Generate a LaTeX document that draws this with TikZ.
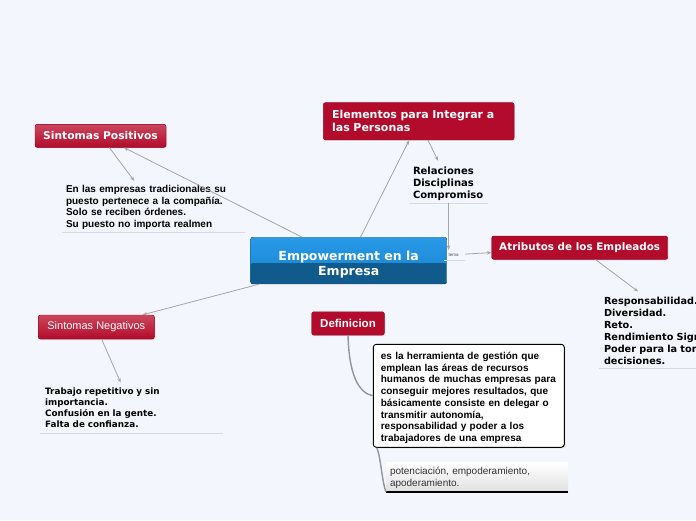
\documentclass[tikz,border=0pt]{standalone}
\usepackage{fontspec}
\setmainfont{Liberation Sans}
\newfontfamily\verd{DejaVu Sans}
\usetikzlibrary{arrows.meta,shadows,calc}
\definecolor{bgcol}{RGB}{243,246,253}
\definecolor{mmred}{RGB}{178,11,43}
\definecolor{mmredtop}{RGB}{204,70,94}
\definecolor{mmblueA}{RGB}{40,154,232}
\definecolor{mmblueB}{RGB}{24,130,206}
\definecolor{mmblueC}{RGB}{16,91,140}
\definecolor{mmline}{RGB}{166,166,166}
\definecolor{mmrule}{RGB}{214,218,228}

\begin{document}
\begin{tikzpicture}[x=1pt,y=-1pt]
\tikzstyle{every node}=[inner sep=0pt]
\tikzstyle{redbox}=[rounded corners=2pt, fill=mmred, draw=mmred!85!black, text=white, drop shadow={opacity=0.2,shadow xshift=1pt,shadow yshift=-1pt}]
\tikzstyle{redtitle}=[redbox, font=\verd\bfseries\fontsize{10.7}{13}\selectfont]
\tikzstyle{glossy}=[top color=mmredtop, bottom color=mmred]
\tikzstyle{notetext}=[align=left, inner xsep=4pt, font=\bfseries\fontsize{10}{11.7}\selectfont]
\tikzstyle{notewide}=[align=left, inner xsep=5pt, font=\verd\bfseries\fontsize{9.7}{12}\selectfont]
\tikzstyle{link}=[draw=mmline, line width=0.8pt, -{Stealth[length=4.5pt,width=3.5pt]}]
\tikzstyle{branch}=[draw=mmline!90!black, line width=1.4pt]
\tikzstyle{rule}=[draw=mmrule, line width=0.8pt]

	\useasboundingbox[fill=bgcol] (0,0) rectangle (696,520);

	\node[minimum width=33pt, minimum height=10pt, text width=20pt, align=right, text=black!70, font=\fontsize{4.5}{5}\selectfont] (tema) at (448.5,255) {tema};
	\node[minimum width=196pt, minimum height=46.7pt, rounded corners=2pt, draw=mmblueC!80!black, top color=mmblueA, bottom color=mmblueB, text=white, align=center, font=\verd\bfseries\fontsize{12.5}{15}\selectfont,
		path picture={\fill[mmblueC] (path picture bounding box.west) ++(0,-2.5pt) rectangle (path picture bounding box.south east);}] (emp) at (348.7,260.6) {\rule{0pt}{16.5pt}Empowerment en la\\Empresa};

	\node[redtitle, glossy, minimum width=131pt, minimum height=23pt] (spos) at (100.5,135.8) {Sintomas Positivos};
	\node[notetext, text width=175pt, minimum height=51pt] (spostxt) at (153.5,206.6) {\rule{0pt}{9pt}En las empresas tradicionales su\\puesto pertenece a la compañía.\\Solo se reciben órdenes.\\Su puesto no importa realmen};

	\node[redtitle, minimum width=190.7pt, minimum height=37.3pt, text width=173.3pt, align=left, font=\verd\bfseries\fontsize{11}{13}\selectfont] (elem) at (418.7,121.3) {Elementos para Integrar a\\las Personas};
	\node[notewide, inner xsep=4pt, text width=71pt, minimum height=42pt, font=\verd\bfseries\fontsize{10}{12}\selectfont] (elemtxt) at (448.5,182) {\rule{0pt}{11.5pt}Relaciones\\Disciplinas\\Compromiso};

	\node[redtitle, minimum width=176pt, minimum height=23.3pt, font=\verd\bfseries\fontsize{10.4}{13}\selectfont] (atrib) at (579.7,247.7) {Atributos de los Empleados};
	\node[notewide, text width=170pt, minimum height=76pt] (atribtxt) at (689,329.7) {\rule{0pt}{9pt}Responsabilidad.\\Diversidad.\\Reto.\\Rendimiento Significativo.\\Poder para la toma de\\decisiones.};

	\node[redtitle, glossy, minimum width=116pt, minimum height=24pt, font=\fontsize{11}{13}\selectfont] (sneg) at (96.3,327) {Sintomas Negativos};
	\node[notewide, text width=173pt, minimum height=50pt, font=\verd\bfseries\fontsize{8.8}{11.2}\selectfont] (snegtxt) at (131.7,407.8) {Trabajo repetitivo y sin\\importancia.\\Confusión en la gente.\\Falta de confianza.};

	\node[redtitle, minimum width=72.6pt, minimum height=23.3pt, font=\bfseries\fontsize{11.5}{13}\selectfont] (defin) at (348,323.4) {Definicion};
	\node[notetext, text width=176pt, inner xsep=7.5pt, minimum height=103pt, rounded corners=3pt, draw=black, line width=0.9pt, fill=white, drop shadow={opacity=0.2,shadow xshift=1pt,shadow yshift=-1pt}] (defintxt) at (468.8,395.8) {\rule{0pt}{11.5pt}es la herramienta de gestión que\\emplean las áreas de recursos\\humanos de muchas empresas para\\conseguir mejores resultados, que\\básicamente consiste en delegar o\\transmitir autonomía,\\responsabilidad y poder a los\\trabajadores de una empresa};
	\node[notetext, font=\fontsize{10}{11.7}\selectfont, text=black!80, text width=174pt, minimum height=29pt, top color=white, bottom color=black!12] (sinon) at (477,477.2) {\rule{0pt}{9pt}potenciación, empoderamiento,\\apoderamiento.};

	\draw[rule] (spostxt.south west) -- (spostxt.south east);
	\draw[rule] (elemtxt.south west) -- (elemtxt.south east);
	\draw[rule] (atribtxt.south west) -- (atribtxt.south east);
	\draw[rule] (snegtxt.south west) -- (snegtxt.south east);
	\draw[rule] (tema.south west) ++(12pt,0) -- (tema.south east);
	\draw[line width=2pt] (sinon.south west) -- (sinon.south east);

	\draw[link] (emp) -- (spos);
	\draw[link] (spos) -- (spostxt);
	\draw[link] (emp) -- (elem);
	\draw[link] (elem) -- (elemtxt);
	\draw[link] (elemtxt) -- (tema);
	\draw[link] (tema) -- (atrib);
	\draw[link] (atrib) -- (atribtxt);
	\draw[link] (emp) -- (sneg);
	\draw[link] (sneg) -- (snegtxt);
	\draw[branch] (defin.south) .. controls +(1,38) and +(-15,-3) .. (defintxt.west);
	\draw[branch] ($(defintxt.south west)+(4,0)$) .. controls +(4,10) and +(-4,-12) .. (sinon.south west);
\end{tikzpicture}
\end{document}
